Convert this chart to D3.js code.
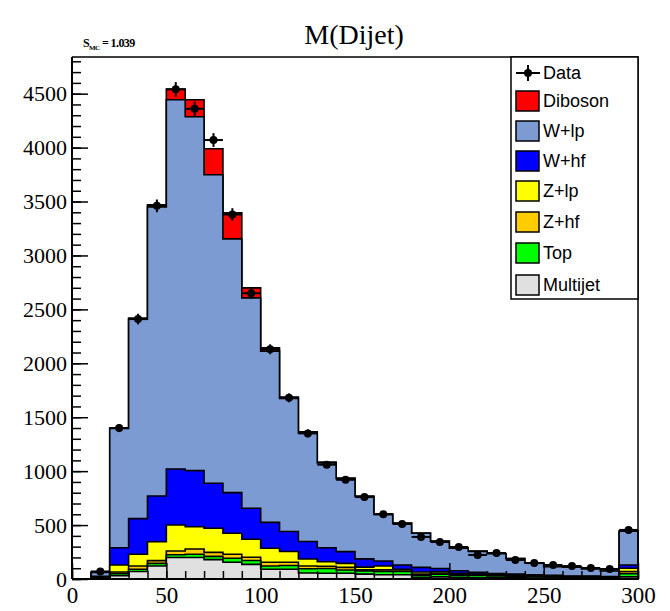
<!DOCTYPE html>
<html><head><meta charset="utf-8">
<script src="https://cdn.jsdelivr.net/npm/d3@7"></script>
<style>
body{margin:0;background:#fff;}
svg{display:block;}
</style></head>
<body><svg id="c" width="670" height="611"></svg>
<script>
// Bin lower edges (GeV), bin width 10
const binStarts = [10,20,30,40,50,60,70,80,90,100,110,120,130,140,150,160,170,180,190,200,210,220,230,240,250,260,270,280,290];
const binWidth = 10;
// Stack components (bottom to top)
const multijet = [5,30,70,120,200,200,180,155,136,90,90,55,53,53,45,40,40,15,20,15,12,10,10,8,8,6,6,5,20];
const topq     = [5,20,20,25,25,30,30,37,35,30,35,40,45,30,30,30,30,20,25,20,20,18,16,14,12,10,10,8,30];
const zhf      = [3,15,30,25,35,48,37,37,30,35,30,25,20,25,10,15,15,10,10,10,8,6,6,5,5,4,4,3,20];
const zlp      = [5,65,110,176,240,207,223,195,167,130,100,65,42,37,25,35,5,20,15,8,6,5,5,4,4,3,3,3,30];
const whf      = [7,160,330,424,520,520,418,377,288,240,185,163,130,109,77,47,40,43,28,24,15,12,10,8,6,5,5,4,30];
const wlp      = [35,1105,1850,2680,3423,3281,2860,2353,1951,1588,1233,1006,787,677,578,432,386,316,252,209,195,183,142,110,79,82,65,51,313];
const diboson  = [0,5,10,20,100,157,241,241,92,30,15,10,8,6,5,4,3,3,2,2,2,1,1,1,1,1,0,0,2];
const dataVals = [70,1400,2410,3460,4540,4360,4070,3380,2650,2130,1680,1350,1060,920,760,600,510,390,343,297,223,241,176,148,130,120,102,93,455];

const seriesNames  = ["Multijet","Top","Z+hf","Z+lp","W+hf","W+lp","Diboson"];
const seriesValues = [multijet, topq, zhf, zlp, whf, wlp, diboson];
const seriesColors = ["#e0e0e0","#00ff00","#ffcc00","#ffff00","#0000ff","#7b9bd2","#ff0000"];
const legendOrder  = ["Diboson","W+lp","W+hf","Z+lp","Z+hf","Top","Multijet"];
const xTicks = [0,50,100,150,200,250,300];
const yTicks = [0,500,1000,1500,2000,2500,3000,3500,4000,4500];
const titleText = "M(Dijet)";
const scaleLabel = "1.039";

const svg = d3.select("#c");
const x = d3.scaleLinear().domain([0,300]).range([72,638]);
const y = d3.scaleLinear().domain([0,4840]).range([579,57]);

// cumulative stacks
const cum = [];
seriesValues.forEach((vals,i)=>{
  cum.push(vals.map((v,j)=> v + (i>0 ? cum[i-1][j] : 0)));
});

function stepPath(arr){
  let p = `M${x(binStarts[0])},${y(0)}`;
  arr.forEach((v,j)=>{
    const x0 = x(binStarts[j]), x1 = x(binStarts[j]+binWidth);
    p += `L${x0},${y(v)}L${x1},${y(v)}`;
  });
  p += `L${x(binStarts[binStarts.length-1]+binWidth)},${y(0)}Z`;
  return p;
}

const g = svg.append("g");
for(let i=cum.length-1;i>=0;i--){
  g.append("path").attr("d",stepPath(cum[i]))
   .attr("fill",seriesColors[i]).attr("stroke","#000").attr("stroke-width",1.6)
   .attr("stroke-linejoin","miter");
}

// data points
const dg = svg.append("g");
dataVals.forEach((v,j)=>{
  const cx = x(binStarts[j]+binWidth/2), cy = y(v);
  const e = Math.sqrt(v);
  dg.append("line").attr("x1",x(binStarts[j])).attr("x2",x(binStarts[j]+binWidth))
    .attr("y1",cy).attr("y2",cy).attr("stroke","#000").attr("stroke-width",2);
  dg.append("line").attr("x1",cx).attr("x2",cx)
    .attr("y1",y(v+e)).attr("y2",y(Math.max(0,v-e))).attr("stroke","#000").attr("stroke-width",2);
  dg.append("circle").attr("cx",cx).attr("cy",cy).attr("r",4).attr("fill","#000");
});

// axes
const fontAxis = "'Liberation Serif','Times New Roman',serif";
const yMinor = d3.range(0,4801,100);
svg.append("g").attr("transform",`translate(${x(0)},0)`)
  .call(d3.axisLeft(y).tickValues(yMinor).tickSize(-9).tickFormat(""))
  .call(a=>a.select(".domain").remove())
  .selectAll("line").attr("stroke","#000").attr("stroke-width",1.5);
const yAx = svg.append("g").attr("transform",`translate(${x(0)},0)`)
  .call(d3.axisLeft(y).tickValues(yTicks).tickSize(-16).tickPadding(5).tickFormat(d3.format("d")));
yAx.select(".domain").attr("stroke","#000").attr("stroke-width",2).attr("d",`M0,${y(0)}V57`);
yAx.selectAll("line").attr("stroke","#000").attr("stroke-width",1.5);
yAx.selectAll("text").attr("font-family",fontAxis).attr("font-size",22).attr("fill","#000");

const xMinor = d3.range(0,301,10);
svg.append("g").attr("transform",`translate(0,${y(0)})`)
  .call(d3.axisBottom(x).tickValues(xMinor).tickSize(-8).tickFormat(""))
  .call(a=>a.select(".domain").remove())
  .selectAll("line").attr("stroke","#000").attr("stroke-width",1.5);
const xAx = svg.append("g").attr("transform",`translate(0,${y(0)})`)
  .call(d3.axisBottom(x).tickValues(xTicks).tickSize(-16).tickPadding(8).tickFormat(d3.format("d")));
xAx.select(".domain").attr("stroke","#000").attr("stroke-width",2).attr("d",`M${x(0)},0H${x(300)}`);
xAx.selectAll("line").attr("stroke","#000").attr("stroke-width",1.5);
xAx.selectAll("text").attr("font-family",fontAxis).attr("font-size",23).attr("fill","#000");

// frame top/right
svg.append("path").attr("d",`M${x(0)},57H${x(300)}V${y(0)}`).attr("fill","none")
  .attr("stroke","#000").attr("stroke-width",1.5);

// title
svg.append("text").attr("x",354).attr("y",44).attr("text-anchor","middle")
  .attr("font-family",fontAxis).attr("font-size",28).attr("fill","#000").text(titleText);
const st = svg.append("text").attr("x",83).attr("y",47).attr("font-family",fontAxis)
  .attr("font-size",12).attr("font-weight","bold").attr("fill","#000")
  .attr("letter-spacing",-0.6);
st.append("tspan").text("S");
st.append("tspan").attr("font-size",7).attr("dy",3).text("MC");
st.append("tspan").attr("dy",-3).text(" = "+scaleLabel);

// legend
const lg = svg.append("g");
lg.append("rect").attr("x",511).attr("y",57).attr("width",127).attr("height",242)
  .attr("fill","#fff").attr("stroke","#000").attr("stroke-width",1.5);
const fontLeg = "'Liberation Sans Narrow','Arial Narrow','Liberation Sans',sans-serif";
const rowY = [73,101,131,161,191,222,253,285];
// data entry
lg.append("line").attr("x1",516).attr("x2",540).attr("y1",rowY[0]).attr("y2",rowY[0]).attr("stroke","#000").attr("stroke-width",2);
lg.append("line").attr("x1",528).attr("x2",528).attr("y1",rowY[0]-8).attr("y2",rowY[0]+8).attr("stroke","#000").attr("stroke-width",2);
lg.append("circle").attr("cx",528).attr("cy",rowY[0]).attr("r",4).attr("fill","#000");
lg.append("text").attr("x",543).attr("y",rowY[0]).attr("dy","0.36em").attr("font-family",fontLeg)
  .attr("font-size",18).attr("fill","#000").text("Data");
legendOrder.forEach((name,k)=>{
  const i = seriesNames.indexOf(name);
  const cy = rowY[k+1];
  lg.append("rect").attr("x",516).attr("y",cy-10).attr("width",23).attr("height",20)
    .attr("fill",seriesColors[i]).attr("stroke","#000").attr("stroke-width",1.5);
  lg.append("text").attr("x",543).attr("y",cy).attr("dy","0.36em").attr("font-family",fontLeg)
    .attr("font-size",18).attr("fill","#000").text(name);
});
</script></body></html>
